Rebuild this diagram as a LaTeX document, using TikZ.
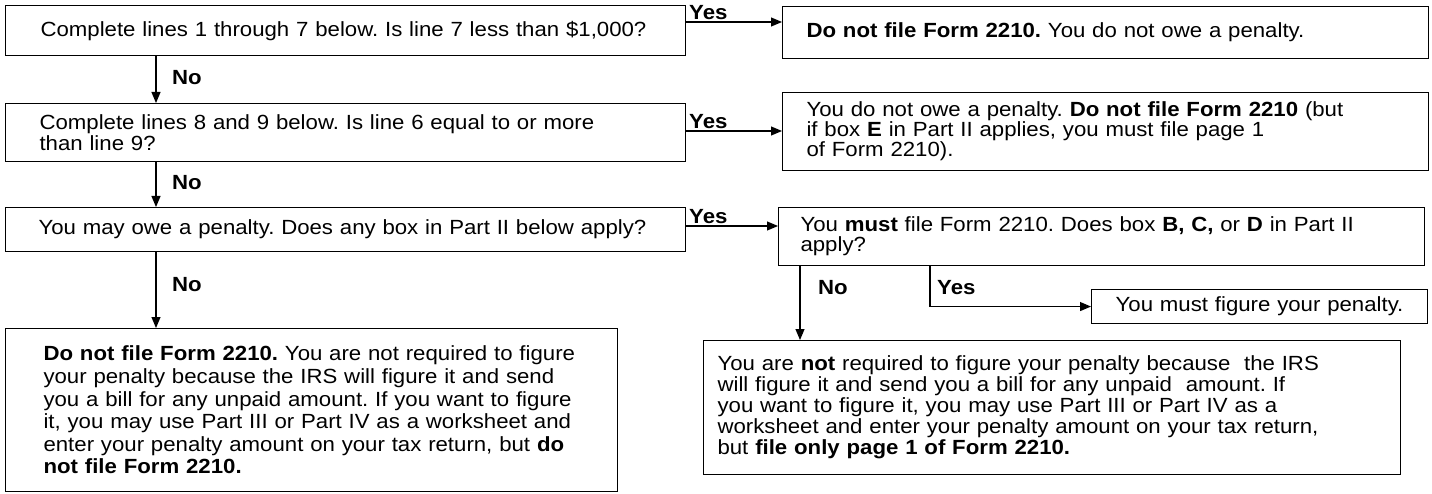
\documentclass[tikz,border=0pt]{standalone}
\usepackage{fontspec}
\setmainfont{Liberation Sans}[FakeStretch=1.083]
\usetikzlibrary{arrows.meta}
\begin{document}
\frenchspacing
\begin{tikzpicture}[x=1pt,y=-1pt,
  box/.style={draw, line width=1.1pt, inner sep=0pt, anchor=north west, align=left},
  fs/.style={font=\fontsize{20.5}{#1}\selectfont\frenchspacing},
  arr/.style={line width=1.1pt, -{Triangle[length=11pt,width=9pt]}},
  lab/.style={font=\fontsize{20.5}{21}\selectfont\bfseries, inner sep=0pt}]
\useasboundingbox (0,0) rectangle (1432,494);
% left column
\node[box, fs=21, minimum width=680pt, minimum height=50pt, text width=610pt] (A) at (5,5)
  {\mbox{Complete lines 1 through 7 below. Is line 7 less than \$1,000?}};
\node[box, fs=20.5, minimum width=680pt, minimum height=58pt, text width=612pt] (B) at (5,103)
  {\mbox{Complete lines 8 and 9 below. Is line 6 equal to or more}\\\mbox{than line 9?}};
\node[box, fs=21, minimum width=680pt, minimum height=44pt, text width=614pt] (C) at (5,207)
  {\mbox{You may owe a penalty. Does any box in Part II below apply?}};
\node[box, fs=22.6, minimum width=612pt, minimum height=163pt, text width=536pt] (G) at (5,328)
  {\mbox{\textbf{Do not file Form 2210.} You are not required to figure}\\
   \mbox{your penalty because the IRS will figure it and send}\\
   \mbox{you a bill for any unpaid amount. If you want to figure}\\
   \mbox{it, you may use Part III or Part IV as a worksheet and}\\
   \mbox{enter your penalty amount on your tax return, but \textbf{do}}\\
   \mbox{\textbf{not file Form 2210.}}};
% right column
\node[box, fs=21, minimum width=646pt, minimum height=52pt, text width=598pt] (D) at (782,6)
  {\mbox{\textbf{Do not file Form 2210.} You do not owe a penalty.}};
\node[box, fs=20, minimum width=646pt, minimum height=78pt, text width=598pt] (E) at (782,92)
  {\mbox{You do not owe a penalty. \textbf{Do not file Form 2210} (but}\\
   \mbox{if box \textbf{E} in Part II applies, you must file page 1}\\
   \mbox{of Form 2210).}};
\node[box, fs=20, minimum width=646pt, minimum height=58pt, text width=602pt] (F) at (778,207)
  {\mbox{You \textbf{must} file Form 2210. Does box \textbf{B, C,} or \textbf{D} in Part II}\\\mbox{apply?}};
\node[box, fs=21, minimum width=336pt, minimum height=34pt, text width=320pt, align=center] (I) at (1091,289)
  {\mbox{You must figure your penalty.}};
\node[box, fs=21, minimum width=697pt, minimum height=134pt, text width=669pt] (H) at (703,340)
  {\mbox{You are \textbf{not} required to figure your penalty because\ \ the IRS}\\
   \mbox{will figure it and send you a bill for any unpaid\ \ amount. If}\\
   \mbox{you want to figure it, you may use Part III or Part IV as a}\\
   \mbox{worksheet and enter your penalty amount on your tax return,}\\
   \mbox{but \textbf{file only page 1 of Form 2210.}}};
% No arrows, left column
\coordinate (xl) at (156,0);
\draw[arr] (A.south -| xl) -- (B.north -| xl);
\draw[arr] (B.south -| xl) -- (C.north -| xl);
\draw[arr] (C.south -| xl) -- (G.north -| xl);
\node[lab, anchor=west] (n1) at (172,78) {No};
\node[lab, anchor=west] (n2) at (172,183) {No};
\node[lab, anchor=west] (n3) at (172,285) {No};
% Yes arrows
\coordinate (y1) at (0,22);
\coordinate (y2) at (0,131);
\coordinate (y3) at (0,226);
\draw[arr] (A.east |- y1) -- (D.west |- y1);
\draw[arr] (B.east |- y2) -- (E.west |- y2);
\draw[arr] (C.east |- y3) -- (F.west |- y3);
\node[lab, anchor=base west] (l1) at (689,20) {Yes};
\node[lab, anchor=base west] (l2) at (689,129) {Yes};
\node[lab, anchor=base west] (l3) at (689,224) {Yes};
% branches below F
\coordinate (xn) at (800,0);
\coordinate (xy) at (930,0);
\draw[arr] (F.south -| xn) -- (H.north -| xn);
\draw[arr] (F.south -| xy) |- (I.west);
\node[lab, anchor=west] (n4) at (818,288) {No};
\node[lab, anchor=west] (l4) at (937,288) {Yes};
\end{tikzpicture}
\end{document}
